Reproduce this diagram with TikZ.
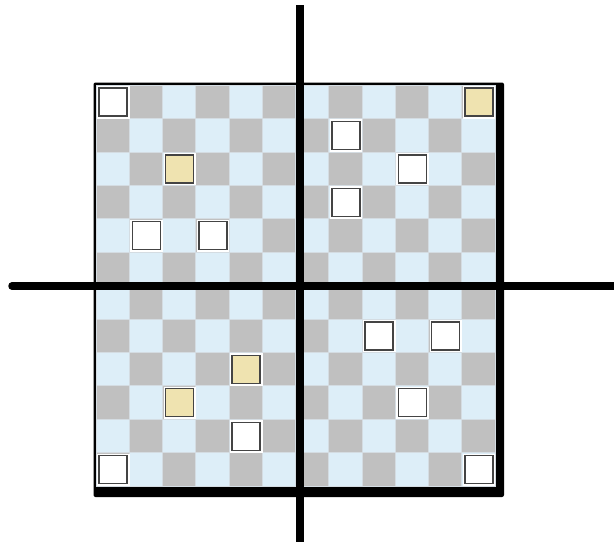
\documentclass[tikz,border=0pt]{standalone}
\usetikzlibrary{calc}
\definecolor{cellgrey}{HTML}{C0C0C0}
\definecolor{cellblue}{HTML}{DDEEF8}
\definecolor{gridline}{HTML}{D4DCE2}
\definecolor{beige}{HTML}{EFE3B0}
\definecolor{squareedge}{HTML}{444444}
\tikzset{
  cellbox/.style={draw=gridline, line width=0.6pt},
  halo/.style={fill=white, draw=none},
  piece/.style={draw=squareedge, line width=1.3pt},
  axis/.style={line width=7.5pt, black},
}
\begin{document}
\begin{tikzpicture}[x=1pt,y=-1pt]
\useasboundingbox (0,0) rectangle (614,542);
% frame with shadow
\fill[black, rounded corners=2pt] (93.5,82.5) rectangle (504,497);
% checkerboard
\foreach \r in {0,...,11}{
  \foreach \c in {0,...,11}{
    \pgfmathtruncatemacro{\parity}{mod(\r+\c,2)}
    \ifnum\parity=0 \def\cc{cellblue}\else\def\cc{cellgrey}\fi
    \filldraw[cellbox, fill=\cc] ({96+33.25*\c},{85+33.42*\r}) rectangle ({96+33.25*(\c+1)},{85+33.42*(\r+1)});
  }
}
% pieces: col,row,colour
\foreach \c/\r/\col in {0/0/white, 11/0/beige, 7/1/white, 2/2/beige, 9/2/white, 7/3/white,
  1/4/white, 3/4/white, 8/7/white, 10/7/white, 4/8/beige, 2/9/beige, 9/9/white, 4/10/white,
  0/11/white, 11/11/white}{
  \coordinate (p) at ({96+33.25*(\c+0.5)+0.5},{85+33.42*(\r+0.5)+0.3});
  \fill[halo] ($(p)+(-16,-16)$) rectangle ($(p)+(16.5,16.5)$);
  \filldraw[piece, fill=\col] ($(p)+(-14,-14)$) rectangle ($(p)+(14,14)$);
}
% axes
\draw[axis, line cap=round] (12,286) -- (614,286);
\draw[axis] (300,5) -- (300,542);
\end{tikzpicture}
\end{document}
